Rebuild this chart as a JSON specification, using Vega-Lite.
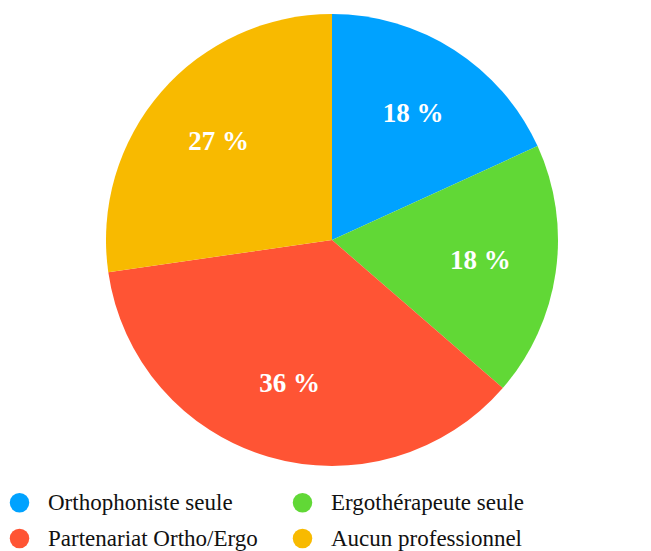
{
  "$schema": "https://vega.github.io/schema/vega-lite/v6.json",
  "width": 638,
  "height": 480,
  "autosize": "none",
  "padding": {"left": 13, "top": 0, "right": 0, "bottom": 71},
  "background": "white",
  "config": {
    "view": {"stroke": null}
  },
  "data": {
    "values": [
      {"categorie": "Orthophoniste seule", "part": 18, "rang": 1},
      {"categorie": "Ergothérapeute seule", "part": 18, "rang": 2},
      {"categorie": "Partenariat Ortho/Ergo", "part": 36, "rang": 3},
      {"categorie": "Aucun professionnel", "part": 27, "rang": 4}
    ]
  },
  "transform": [
    {"calculate": "datum.part + ' %'", "as": "libelle"}
  ],
  "encoding": {
    "theta": {"field": "part", "type": "quantitative", "stack": true},
    "order": {"field": "rang", "type": "quantitative"},
    "color": {
      "field": "categorie",
      "type": "nominal",
      "scale": {
        "domain": ["Orthophoniste seule", "Ergothérapeute seule", "Partenariat Ortho/Ergo", "Aucun professionnel"],
        "range": ["#00A2FF", "#61D836", "#FF5434", "#F8BA00"]
      },
      "legend": {
        "title": null,
        "orient": "none",
        "legendX": -5,
        "legendY": 491,
        "direction": "horizontal",
        "columns": 2,
        "columnPadding": 33,
        "rowPadding": 12,
        "symbolType": "circle",
        "symbolSize": 380,
        "symbolStrokeWidth": 0,
        "symbolOpacity": 1,
        "labelOffset": 17,
        "labelFont": "Times New Roman, Liberation Serif, serif",
        "labelFontWeight": "normal",
        "labelFontSize": 23,
        "labelColor": "#111111",
        "labelLimit": 400
      }
    }
  },
  "layer": [
    {"mark": {"type": "arc", "outerRadius": 226}},
    {
      "mark": {
        "type": "text",
        "radius": 150,
        "font": "Liberation Serif",
        "fontWeight": "bold",
        "fontSize": 27
      },
      "encoding": {
        "text": {"field": "libelle", "type": "nominal"},
        "color": {"value": "white"}
      }
    }
  ]
}
